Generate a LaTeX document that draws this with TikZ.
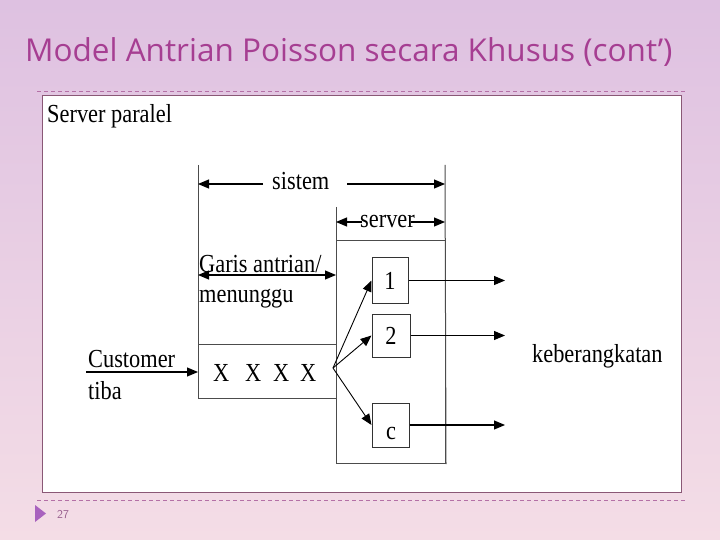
\documentclass[tikz,border=0pt]{standalone}
\usepackage{fontspec}
\setmainfont{Liberation Serif}
\newfontfamily\diagfont[FakeStretch=0.86]{Liberation Serif}
\newfontfamily\judulfont{Open Sans}
\usetikzlibrary{positioning,arrows.meta}
\definecolor{lavtop}{RGB}{222,193,225}
\definecolor{pinkmid}{RGB}{236,197,213}
\definecolor{pinkbot}{RGB}{244,221,230}
\definecolor{judulcol}{RGB}{166,62,146}
\definecolor{garis}{RGB}{180,112,166}
\definecolor{bingkai}{RGB}{138,88,118}
\definecolor{segitiga}{RGB}{168,98,190}
\definecolor{halcol}{RGB}{150,92,140}
\begin{document}
\begin{tikzpicture}
		[x=1pt,y=-1pt,
		lbl/.style={font=\diagfont\fontsize{26}{28}\selectfont,
			inner sep=0pt, anchor=base west},
		srvbox/.style={draw=black!80, line width=1pt, inner sep=0pt,
			font=\diagfont\fontsize{26}{28}\selectfont},
		tepi/.style={draw=black!70, line width=1pt},
		arr/.style={-{Triangle[length=11pt,width=9pt]}, line width=1.1pt},
		darr/.style={{Triangle[length=11pt,width=9pt]}-{Triangle[length=11pt,width=9pt]},
			line width=1.1pt},
		putus/.style={draw=garis, line width=0.8pt, dash pattern=on 4pt off 3pt}]
		\shade[top color=lavtop, middle color=pinkmid, bottom color=pinkbot]
			(0,0) rectangle (720,540);
		\useasboundingbox (0,0) rectangle (720,540);
		% slide
		\node[anchor=base west, inner sep=0pt, text=judulcol,
			font=\judulfont\fontsize{31.5}{34}\selectfont] (judul) at (25,62)
			{Model Antrian Poisson secara Khusus (cont’)};
		\draw[putus] (37,91) -- (685,91);
		\draw[draw=bingkai, fill=white, line width=1pt] (42,96) rectangle (681,492);
		\draw[putus] (37,500) -- (685,500);
		\fill[segitiga] (35,505) -- (46,513.5) -- (35,522) -- cycle;
		\node[anchor=base west, inner sep=0pt, text=halcol,
			font=\sffamily\fontsize{12}{14}\selectfont] (hal) at (57,518) {27};
		% diagram
		\node[lbl] (panel) at (47,123) {Server paralel};
		\node[tepi, anchor=north west, minimum width=138pt, minimum height=54pt]
			(antrian) at (198,344) {};
		\node[tepi, anchor=north west, minimum width=109pt, minimum height=223pt]
			(server) at (336,240) {};
		\foreach \i/\xx in {1/213,2/245,3/273,4/300}
			\node[lbl] (x\i) at (\xx,381) {X};
		\coordinate (sisL) at (198,165);
		\coordinate (sisR) at (445,165);
		\coordinate (srvT) at (336,207);
		\draw[tepi] (sisL) -- (antrian.north west);
		\draw[tepi] (sisR) -- (server.south east);
		\draw[tepi] (srvT) -- (server.north west);
		\node[lbl] (sistem) at (272,190) {sistem};
		\coordinate (sisA) at (263,184);
		\coordinate (sisB) at (347,184);
		\draw[arr] (sisA) -- (sisA -| sisL);
		\draw[arr] (sisB) -- (sisB -| sisR);
		\node[lbl] (srvlbl) at (360,228) {server};
		\coordinate (srvA) at (362,222);
		\coordinate (srvB) at (411,222);
		\draw[arr] (srvA) -- (srvA -| srvT);
		\draw[arr] (srvB) -- (srvB -| sisR);
		\node[lbl] (garislbl) at (199,272) {Garis antrian/};
		\node[lbl] (tunggu) at (199,302) {menunggu};
		\coordinate (garisA) at (198,275);
		\draw[darr] (garisA) -- (garisA -| server.west);
		\node[lbl] (datang) at (88,367) {Customer};
		\node[lbl] (tiba) at (88,399) {tiba};
		\coordinate (masuk) at (86,372);
		\draw[arr] (masuk) -- (masuk -| antrian.west);
		\node[srvbox, minimum width=36pt, minimum height=46pt] (s1) at (390,280.5) {1};
		\node[srvbox, minimum width=38pt, minimum height=43pt] (s2) at (391,335.5) {2};
		\node[srvbox, minimum width=37pt, minimum height=44pt] (sc) at (390.5,425) {};
		\node[lbl, anchor=base] (clbl) at (391,439) {c};
		\coordinate (fan) at (333,368);
		\foreach \s in {s1,s2,sc}
			\draw[arr, line width=0.9pt] (fan) -- (\s.west);
		\coordinate (ujung) at (505,0);
		\foreach \s in {s1,s2,sc}
			\draw[arr] (\s.east) -- (\s.east -| ujung);
		\node[lbl] (pergi) at (532,362) {keberangkatan};
	\end{tikzpicture}
\end{document}
